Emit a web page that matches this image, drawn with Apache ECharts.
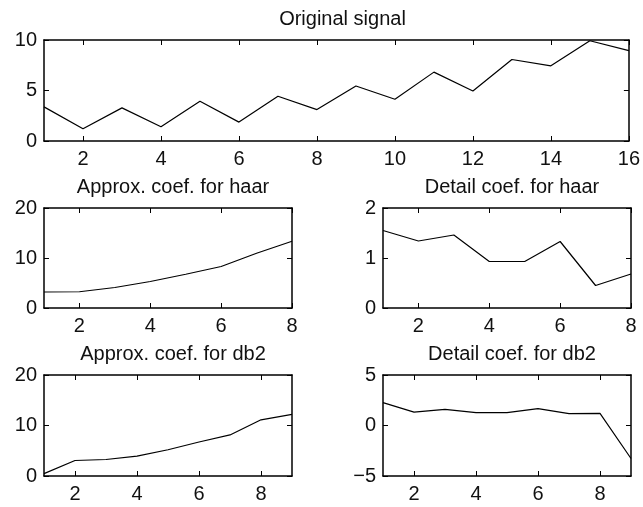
<!DOCTYPE html>
<html>
<head>
<meta charset="utf-8">
<script src="https://cdn.jsdelivr.net/npm/echarts@6/dist/echarts.min.js"></script>
<style>
  html, body { margin: 0; padding: 0; background: #fff; }
  #main { width: 643px; height: 507px; }
</style>
</head>
<body>
<div id="main"></div>
<script>
// values
var signal = [3.38, 1.21, 3.28, 1.41, 3.93, 1.87, 4.43, 3.11, 5.44, 4.13, 6.82, 4.95, 8.07, 7.44, 9.93, 8.95];
var approxHaar = [3.2, 3.25, 4.1, 5.3, 6.75, 8.3, 10.95, 13.35];
var detailHaar = [1.55, 1.34, 1.46, 0.93, 0.93, 1.33, 0.45, 0.68];
var approxDb2 = [0.47, 3.07, 3.27, 3.93, 5.2, 6.73, 8.13, 11.13, 12.2];
var detailDb2 = [2.27, 1.33, 1.6, 1.27, 1.27, 1.67, 1.17, 1.2, -3.27];

var titles = ['Original signal', 'Approx. coef. for haar', 'Detail coef. for haar', 'Approx. coef. for db2', 'Detail coef. for db2'];
var xTicks = [
    [2, 4, 6, 8, 10, 12, 14, 16],
    [2, 4, 6, 8],
    [2, 4, 6, 8],
    [2, 4, 6, 8],
    [2, 4, 6, 8]
];
var yRanges = [[0, 10, 5], [0, 20, 10], [0, 2, 1], [0, 20, 10], [-5, 5, 5]];

var panels = [signal, approxHaar, detailHaar, approxDb2, detailDb2];
var grids = [
    { left: 44, top: 40, width: 587, height: 101 },
    { left: 44, top: 208, width: 248, height: 100 },
    { left: 383, top: 208, width: 248, height: 100 },
    { left: 44, top: 375, width: 248, height: 101 },
    { left: 383, top: 375, width: 248, height: 101 }
];

var font = 'Liberation Sans, Arial, Helvetica, sans-serif';
var fs = 20;
var axisLine = { show: true, onZero: false, lineStyle: { color: '#000', width: 1.5 } };
var tick = { show: true, inside: true, length: 5, lineStyle: { color: '#000', width: 1 } };

var xAxes = [], yAxes = [], series = [], titleList = [];

panels.forEach(function (vals, i) {
    var g = grids[i];
    var n = vals.length;
    var yr = yRanges[i];
    titleList.push({
        text: titles[i],
        left: g.left + g.width / 2,
        top: g.top - 36,
        textAlign: 'center',
        textStyle: { fontFamily: font, fontSize: fs, fontWeight: 'normal', color: '#111' }
    });
    // bottom x axis with labels
    xAxes.push({
        gridIndex: i, type: 'value', position: 'bottom', min: 1, max: n,
        axisLine: axisLine,
        axisTick: Object.assign({}, tick, { customValues: xTicks[i] }),
        axisLabel: { customValues: xTicks[i], margin: 8, fontFamily: font, fontSize: fs, color: '#111' },
        splitLine: { show: false }
    });
    // top x axis, ticks only
    xAxes.push({
        gridIndex: i, type: 'value', position: 'top', min: 1, max: n,
        axisLine: axisLine,
        axisTick: Object.assign({}, tick, { customValues: xTicks[i] }),
        axisLabel: { show: false },
        splitLine: { show: false }
    });
    yAxes.push({
        gridIndex: i, type: 'value', position: 'left', min: yr[0], max: yr[1], interval: yr[2],
        axisLine: axisLine, axisTick: tick,
        axisLabel: {
            margin: 7, fontFamily: font, fontSize: fs, color: '#111',
            formatter: function (v) { return String(v).replace('-', '\u2212'); }
        },
        splitLine: { show: false }
    });
    yAxes.push({
        gridIndex: i, type: 'value', position: 'right', min: yr[0], max: yr[1], interval: yr[2],
        axisLine: axisLine, axisTick: tick,
        axisLabel: { show: false },
        splitLine: { show: false }
    });
    series.push({
        type: 'line',
        xAxisIndex: i * 2,
        yAxisIndex: i * 2,
        data: vals.map(function (v, k) { return [k + 1, v]; }),
        showSymbol: false,
        lineStyle: { color: '#000', width: 1.2 },
        silent: true,
        animation: false
    });
});

var chart = echarts.init(document.getElementById('main'));
chart.setOption({
    animation: false,
    backgroundColor: '#fff',
    title: titleList,
    grid: grids,
    xAxis: xAxes,
    yAxis: yAxes,
    series: series
});
</script>
</body>
</html>
